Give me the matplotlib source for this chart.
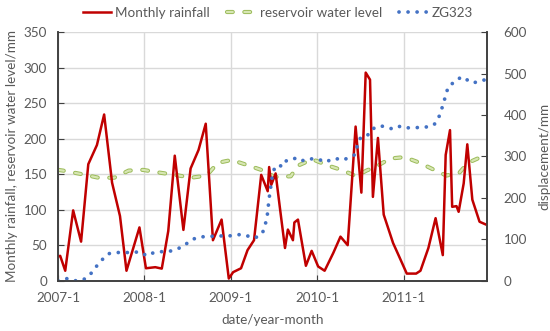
import matplotlib
matplotlib.use('Agg')
import matplotlib.pyplot as plt
import matplotlib.patheffects as pe

plt.rcParams['font.family'] = ['Lato', 'DejaVu Sans']

# x values are months counted from 2007-1
rain_x = [0, 0.3, 1.0, 2.1, 3.2, 4.2, 5.4, 6.4, 7.5, 8.6, 9.5, 11.3, 12.2, 13.5, 14.4,
          15.3, 16.2, 17.4, 18.4, 19.5, 20.5, 21.5, 22.7, 23.7, 24.3, 25.4, 26.3, 27.2,
          28.2, 29.1, 29.3, 29.6, 30.2, 30.8, 31.5, 31.9, 32.6, 32.8, 33.3, 34.4, 35.2,
          36.1, 37.0, 38.2, 39.2, 40.2, 41.3, 42.1, 42.7, 43.3, 43.7, 44.4, 45.2, 46.5,
          47.3, 48.4, 49.7, 50.3, 51.4, 52.4, 53.4, 53.8, 54.4, 54.7, 55.3, 55.6, 56.3,
          56.8, 57.5, 58.5, 59.4]
rain_y = [34, 35, 14, 99, 55, 164, 191, 234, 138, 91, 14, 75, 17.5, 19, 17,
          70, 176, 71.5, 158, 184, 221, 57, 86, 3, 12, 17.5, 43, 57,
          149, 126, 160, 135, 151, 102, 46, 72, 57, 82, 86, 21, 42,
          20, 14, 39, 62, 50, 217, 124, 293, 283, 118, 201, 93, 53,
          35, 10, 10, 14, 46, 88, 36, 177, 212, 104, 105, 97, 137,
          192, 114, 83, 79]

level_x = [0, 0.7, 3.3, 5.6, 7.8, 9.8, 11.8, 14.2, 16.2, 18.5, 20.6, 22.2, 24.1, 26.2,
           28.2, 30.1, 32.3, 33.3, 35.3, 37.5, 39.6, 41.4, 42.8, 44.2, 46.1, 48.1, 50.2,
           52.2, 53.9, 55.7, 56.9, 58.9, 59.4]
level_y = [156, 155, 150, 145, 145, 155, 156, 152, 149, 145, 148, 166, 170, 163,
           156, 146, 147, 162, 171, 162, 155, 147, 155, 161, 172, 174, 166,
           156, 148, 152, 166, 175, 175]

disp_x = [0, 1.2, 2.1, 3.1, 3.8, 4.6, 5.1, 5.7, 6.3, 7.0, 7.8, 8.7, 9.7, 10.6, 11.5,
          12.3, 13.0, 13.9, 14.8, 15.8, 16.6, 17.5, 18.2, 19.0, 19.8, 20.8, 21.8, 22.7,
          23.5, 24.5, 25.4, 26.3, 27.2, 28.0, 28.5, 29.0, 29.3, 29.7, 30.1, 30.6, 31.3,
          31.7, 32.3, 32.9, 33.7, 34.5, 35.4, 36.3, 37.2, 38.0, 38.8, 39.6, 40.4, 41.2,
          41.7, 42.1, 43.0, 43.5, 44.1, 44.8, 45.7, 46.6, 47.5, 48.4, 49.3, 50.2, 51.1,
          52.1, 52.6, 53.0, 53.4, 53.8, 54.1, 54.4, 55.3, 55.9, 56.6, 57.3, 58.1, 59.0, 59.4]
disp_y = [0, 5, 0, 0, 5, 18, 30, 42, 54, 65, 68, 68, 68, 69, 69,
          60, 66, 70, 70, 72, 77, 84, 95, 102, 106, 106, 108, 108,
          108, 109, 112, 108, 103, 108, 120, 151, 199, 248, 276, 278, 276,
          290, 294, 295, 288, 294, 294, 292, 286, 294, 294, 291, 298, 304,
          336, 348, 352, 365, 370, 374, 369, 366, 373, 369, 369, 370, 371,
          375, 385, 401, 423, 447, 465, 473, 481, 492, 487, 478, 479, 484, 485]

tick_pos = [0, 12, 24, 36, 48]
tick_labels = ['2007-1', '2008-1', '2009-1', '2010-1', '2011-1']

txt = '#595959'
fs = 9.7
fig = plt.figure(figsize=(5.5, 3.31), dpi=100)
ax = fig.add_axes([0.1055, 0.152, 0.7795, 0.751])
ax2 = ax.twinx()

l1, = ax.plot(rain_x, rain_y, color='#C00000', lw=1.8, label='Monthly rainfall', zorder=3)
l2, = ax.plot(level_x, level_y, color='#d7e6b3', lw=1.6, linestyle=(0, (2.6, 5.2)),
              dash_capstyle='round', label='reservoir water level', zorder=2,
              path_effects=[pe.Stroke(linewidth=3.0, foreground='#9bbb59'), pe.Normal()])
l3, = ax2.plot(disp_x, disp_y, color='#4472C4', lw=2.7, linestyle=(0, (0.01, 2.4)),
               dash_capstyle='round', label='ZG323')

ax.set_xlim(0, 59.5)
ax.set_ylim(0, 350)
ax2.set_ylim(0, 600)
ax.set_yticks(range(0, 351, 50))
ax2.set_yticks(range(0, 601, 100))
ax.set_xticks(tick_pos)
ax.set_xticklabels(tick_labels)

ax.grid(True, color='#d9d9d9', lw=1)
ax.set_axisbelow(True)
for a in (ax, ax2):
    a.spines['top'].set_visible(False)
    a.tick_params(labelsize=fs, colors=txt, length=4, direction='in')
    for s in ('left', 'right', 'bottom'):
        a.spines[s].set_color('#404040')
        a.spines[s].set_linewidth(1.2)
ax.tick_params(axis='x', pad=8, color='#404040')
ax.tick_params(axis='y', pad=8, color='#404040')
ax2.tick_params(axis='y', pad=12, color='#404040')

ax.set_xlabel('date/year-month', fontsize=fs, color=txt, labelpad=7)
ax.set_ylabel('Monthly rainfall, reservoir water level/mm', fontsize=fs, color=txt, labelpad=4)
ax2.set_ylabel('displacement/mm', fontsize=fs, color=txt, labelpad=8)

fig.legend(handles=[l1, l2, l3], loc='upper center', bbox_to_anchor=(0.505, 1.015),
           ncol=3, frameon=False, fontsize=fs, labelcolor=txt,
           handlelength=2.1, columnspacing=1.3, handletextpad=0.3)

fig.savefig('out.png', dpi=100)
